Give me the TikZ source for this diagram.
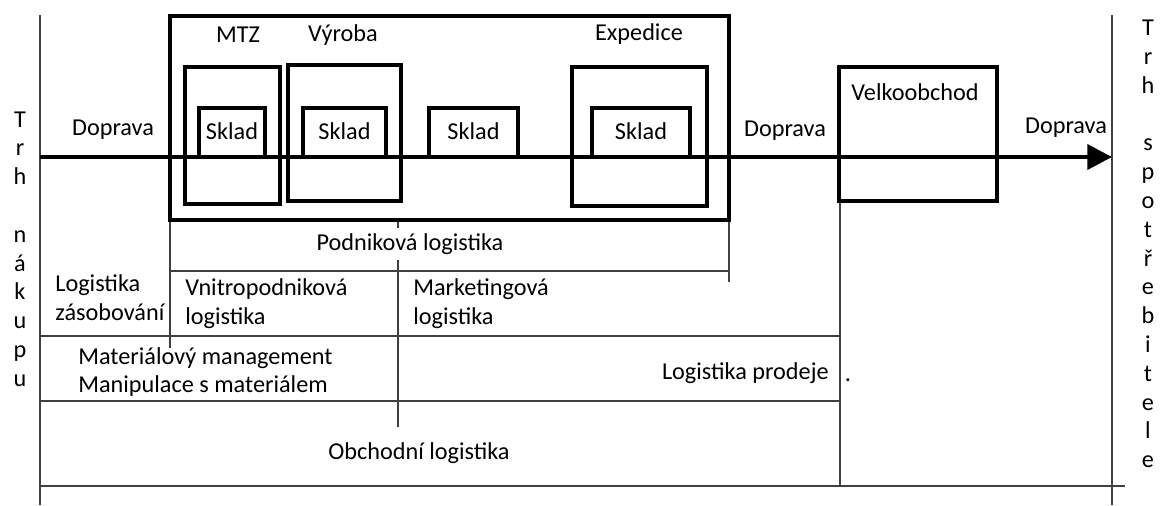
\documentclass[tikz,border=0pt]{standalone}
\usepackage{fontspec}
\setmainfont{Carlito}
\usetikzlibrary{arrows.meta}
\tikzset{box/.style={line width=2.4pt}, grid/.style={line width=0.8pt, black!75}, lbl/.style={inner sep=0pt, font=\fontsize{13.8}{16.4}\selectfont}}
\newcommand{\skladbox}[3]{\draw[box] (#2,108) rectangle (#3,157); \node[lbl] (#1) at ({(#2+#3)/2},131) {Sklad};}

\begin{document}
\begin{tikzpicture}[x=0.02cm, y=-0.02cm]
\useasboundingbox (0,0) rectangle (1170,505);
\coordinate (start) at (40,157);
\coordinate (end) at (1112,157);
\draw[grid] (40,15) -- (40,505);
\draw[grid] (1112,15) -- (1112,505);
\draw[grid] (40,486) -- (1125,486);
\draw[grid] (40,336) -- (840,336);
\draw[grid] (40,401) -- (840,401);
\draw[grid] (170,271) -- (729,271);
\draw[grid] (170,220) -- (170,348);
\draw[grid] (729,220) -- (729,282);
\draw[grid] (398,220) -- (398,427);
\draw[grid] (840,201) -- (840,486);
\draw[box] (170,16) rectangle (729,220);
\draw[box] (185,67) rectangle (280,204);
\draw[box] (288,65) rectangle (401,201);
\draw[box] (572,67) rectangle (707,206);
\draw[box] (839,67) rectangle (997,201);
\skladbox{skladmtz}{199}{265}
\skladbox{skladvyr}{303}{386}
\skladbox{skladmid}{429}{518}
\skladbox{skladexp}{592}{690}
\draw[line width=2.8pt, -{Triangle[length=14pt, width=14pt]}] (start) -- (end);
\node[lbl] (mtz) at (238,35) {MTZ};
\node[lbl] (vyroba) at (343,35) {Výroba};
\node[lbl] (expedice) at (639,34) {Expedice};
\node[lbl] (velko) at (915,92) {Velkoobchod};
\node[lbl] (dopr1) at (113,130) {Doprava};
\node[lbl] (dopr2) at (785,131) {Doprava};
\node[lbl] (dopr3) at (1066,128) {Doprava};
\node[lbl, fill=white, inner sep=3pt] (podnik) at (410,244) {Podniková logistika};
\node[lbl, anchor=west, align=left] (zasob) at (55,298) {Logistika\\zásobování};
\node[lbl, anchor=west, align=left] (vnitro) at (185,304) {Vnitropodniková\\logistika};
\node[lbl, anchor=west, align=left] (market) at (413,304) {Marketingová\\logistika};
\node[lbl, anchor=west, align=left] (material) at (78,372) {Materiálový management\\Manipulace s materiálem};
\node[lbl, anchor=east] (prodej) at (829,373) {Logistika prodeje};
\node[lbl] (tecka) at (848,380) {.};
\node[lbl] (obchod) at (419,453) {Obchodní logistika};
\node[lbl, align=center] (nakup) at (20,249) {T\\r\\h\\[16.4pt]n\\á\\k\\u\\p\\u};
\node[lbl, align=center] (spotreb) at (1148,244) {T\\r\\h\\[16.4pt]s\\p\\o\\t\\ř\\e\\b\\i\\t\\e\\l\\e};
\end{tikzpicture}
\end{document}
